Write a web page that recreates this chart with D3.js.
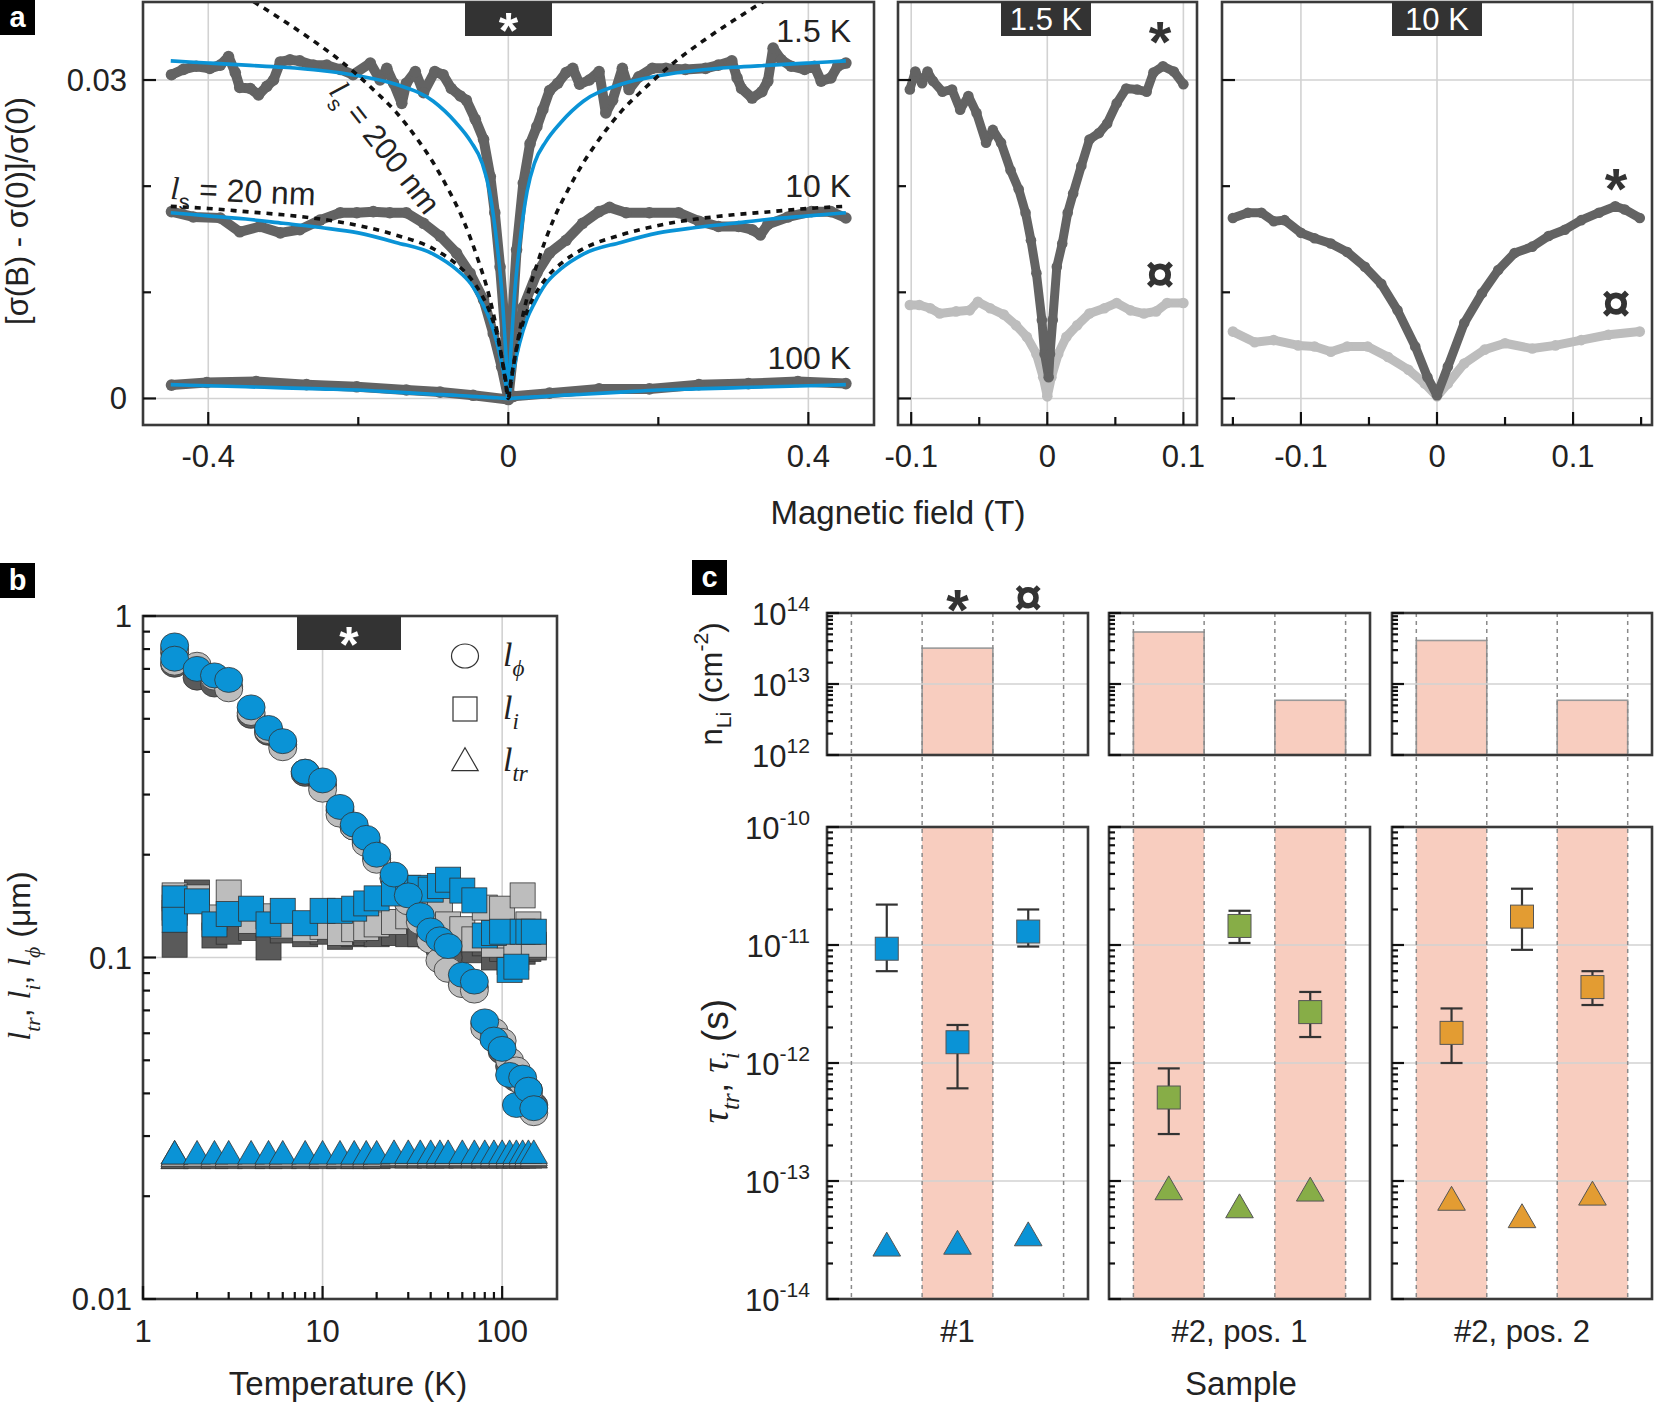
<!DOCTYPE html>
<html>
<head>
<meta charset="utf-8" />
<style>
  body { margin: 0; background: white; }
  svg text { font-family: "Liberation Sans", Arial, sans-serif; fill: #222; }
</style>
<script src="https://d3js.org/d3.v7.min.js"></script>
</head>
<body>
<script>
// ---------------- panel a: magnetoconductance ----------------
var trace15K = [[-0.449,0.0305],[-0.433,0.0310],[-0.416,0.0313],[-0.398,0.0311],[-0.384,0.0314],[-0.373,0.0322],[-0.364,0.0307],[-0.358,0.0293],[-0.344,0.0292],[-0.333,0.0286],[-0.322,0.0294],[-0.313,0.0300],[-0.304,0.0317],[-0.291,0.0319],[-0.278,0.0318],[-0.260,0.0314],[-0.242,0.0314],[-0.224,0.0310],[-0.207,0.0305],[-0.184,0.0316],[-0.171,0.0300],[-0.162,0.0311],[-0.153,0.0297],[-0.142,0.0278],[-0.136,0.0297],[-0.124,0.0308],[-0.113,0.0288],[-0.098,0.0308],[-0.087,0.0305],[-0.076,0.0292],[-0.064,0.0285],[-0.056,0.0281],[-0.044,0.0263],[-0.033,0.0244],[-0.024,0.0209],[-0.018,0.0175],[-0.011,0.0124],[-0.004,0.0061],[0,0],[0.004,0.0061],[0.011,0.0140],[0.020,0.0203],[0.029,0.0240],[0.038,0.0256],[0.046,0.0272],[0.055,0.0290],[0.066,0.0297],[0.077,0.0307],[0.086,0.0311],[0.095,0.0296],[0.108,0.0300],[0.121,0.0308],[0.130,0.0269],[0.139,0.0281],[0.152,0.0311],[0.161,0.0291],[0.174,0.0303],[0.192,0.0311],[0.210,0.0311],[0.236,0.0310],[0.263,0.0311],[0.280,0.0314],[0.298,0.0318],[0.305,0.0302],[0.311,0.0292],[0.325,0.0283],[0.338,0.0289],[0.346,0.0299],[0.353,0.0330],[0.364,0.0319],[0.377,0.0313],[0.395,0.0310],[0.408,0.0313],[0.417,0.0299],[0.430,0.0302],[0.439,0.0313],[0.450,0.0316]];
var trace10K = [[-0.449,0.0176],[-0.420,0.0171],[-0.384,0.0170],[-0.358,0.0157],[-0.331,0.0162],[-0.304,0.0156],[-0.278,0.0159],[-0.251,0.0168],[-0.224,0.0175],[-0.202,0.0175],[-0.180,0.0176],[-0.158,0.0175],[-0.136,0.0175],[-0.113,0.0165],[-0.091,0.0153],[-0.069,0.0137],[-0.051,0.0118],[-0.033,0.0093],[-0.020,0.0061],[-0.009,0.0030],[0,0],[0.007,0.0046],[0.020,0.0086],[0.038,0.0118],[0.055,0.0137],[0.077,0.0149],[0.099,0.0165],[0.121,0.0176],[0.135,0.0180],[0.157,0.0175],[0.188,0.0175],[0.227,0.0175],[0.254,0.0167],[0.280,0.0162],[0.307,0.0162],[0.325,0.0159],[0.336,0.0154],[0.346,0.0164],[0.373,0.0171],[0.404,0.0176],[0.430,0.0176],[0.450,0.0170]];
var trace100K = [[-0.449,0.00126],[-0.402,0.0015],[-0.336,0.0016],[-0.269,0.0013],[-0.202,0.0011],[-0.136,0.0008],[-0.091,0.0006],[-0.047,0.0003],[0,-0.0001],[0.007,0.0002],[0.055,0.0005],[0.121,0.0009],[0.188,0.0009],[0.254,0.0013],[0.320,0.0014],[0.386,0.0016],[0.450,0.0014]];

var fitB = [-0.45,-0.40,-0.35,-0.30,-0.25,-0.20,-0.15,-0.10,-0.07,-0.05,-0.035,-0.025,-0.015,-0.008,-0.003,0,0.003,0.008,0.015,0.025,0.035,0.05,0.07,0.10,0.15,0.20,0.25,0.30,0.35,0.40,0.45];
var fit15K = [0.0318,0.0316,0.0314,0.0312,0.0309,0.0304,0.0296,0.0280,0.0260,0.0242,0.0222,0.0195,0.0145,0.0095,0.0040,0,0.0040,0.0095,0.0145,0.0195,0.0222,0.0242,0.0260,0.0280,0.0296,0.0304,0.0309,0.0312,0.0314,0.0316,0.0318];
var fit10K = [0.0175,0.0172,0.0169,0.0165,0.0161,0.0156,0.0147,0.0136,0.0122,0.0108,0.0090,0.0075,0.0052,0.0030,0.0012,0,0.0012,0.0030,0.0052,0.0075,0.0090,0.0108,0.0122,0.0136,0.0147,0.0156,0.0161,0.0165,0.0169,0.0172,0.0175];
var fit100K = [0.0013,0.0012,0.0011,0.0010,0.0009,0.0008,0.0006,0.0004,0.0003,0.0002,0.00015,0.0001,0.00006,0.00003,0.00001,0,0.00001,0.00003,0.00006,0.0001,0.00015,0.0002,0.0003,0.0004,0.0006,0.0008,0.0009,0.0010,0.0011,0.0012,0.0013];
var ls20nm = [0.0181,0.0179,0.0176,0.0173,0.0169,0.0163,0.0154,0.0141,0.0127,0.0113,0.0097,0.0082,0.0060,0.0036,0.0015,0,0.0015,0.0036,0.0060,0.0082,0.0097,0.0113,0.0127,0.0141,0.0154,0.0163,0.0169,0.0173,0.0176,0.0179,0.0181];
var ls200B = [-0.38,-0.34,-0.30,-0.26,-0.22,-0.18,-0.15,-0.12,-0.10,-0.08,-0.06,-0.04,-0.025,-0.012,-0.005,0,0.005,0.012,0.025,0.04,0.06,0.08,0.10,0.12,0.15,0.18,0.22,0.26,0.30,0.34,0.38];
var ls200nm = [0.0392,0.0374,0.0356,0.0337,0.0316,0.0291,0.0270,0.0243,0.0222,0.0197,0.0168,0.0130,0.0095,0.0052,0.0022,0,0.0022,0.0052,0.0095,0.0130,0.0168,0.0197,0.0222,0.0243,0.0270,0.0291,0.0316,0.0337,0.0356,0.0374,0.0392];

var k15Star = [[-0.101,0.0291],[-0.097,0.0308],[-0.092,0.0297],[-0.088,0.0308],[-0.084,0.0299],[-0.077,0.0289],[-0.070,0.0291],[-0.064,0.0272],[-0.058,0.0285],[-0.052,0.0269],[-0.045,0.0241],[-0.040,0.0253],[-0.034,0.0241],[-0.027,0.0215],[-0.021,0.0197],[-0.016,0.0175],[-0.012,0.0149],[-0.008,0.0118],[-0.004,0.0074],[-0.002,0.0042],[0.001,0.0020],[0.002,0.0042],[0.004,0.0074],[0.007,0.0124],[0.011,0.0146],[0.015,0.0175],[0.019,0.0193],[0.025,0.0219],[0.031,0.0244],[0.038,0.0250],[0.044,0.0259],[0.051,0.0278],[0.058,0.0292],[0.066,0.0291],[0.073,0.0289],[0.078,0.0307],[0.085,0.0313],[0.093,0.0308],[0.100,0.0296]];
var k15Cur = [[-0.101,0.0088],[-0.094,0.0088],[-0.086,0.0085],[-0.079,0.0080],[-0.067,0.0082],[-0.057,0.0083],[-0.051,0.0091],[-0.042,0.0085],[-0.032,0.0079],[-0.023,0.0069],[-0.015,0.0058],[-0.008,0.0042],[-0.003,0.0020],[0,0.0002],[0.003,0.0020],[0.008,0.0042],[0.014,0.0058],[0.022,0.0069],[0.031,0.0080],[0.042,0.0085],[0.051,0.0090],[0.061,0.0083],[0.071,0.0080],[0.080,0.0082],[0.088,0.0090],[0.100,0.0090]];
var k10Star = [[-0.150,0.0170],[-0.139,0.0175],[-0.129,0.0175],[-0.120,0.0167],[-0.112,0.0168],[-0.100,0.0156],[-0.090,0.0151],[-0.078,0.0146],[-0.066,0.0138],[-0.053,0.0124],[-0.041,0.0108],[-0.029,0.0083],[-0.016,0.0049],[-0.007,0.0020],[0,0.0003],[0.008,0.0030],[0.020,0.0071],[0.033,0.0099],[0.045,0.0121],[0.057,0.0137],[0.070,0.0143],[0.082,0.0153],[0.094,0.0159],[0.106,0.0168],[0.119,0.0175],[0.131,0.0181],[0.138,0.0178],[0.149,0.0170]];
var k10Cur = [[-0.150,0.0063],[-0.134,0.0053],[-0.120,0.0055],[-0.102,0.0050],[-0.090,0.0049],[-0.078,0.0044],[-0.066,0.0049],[-0.051,0.0049],[-0.036,0.0039],[-0.021,0.0027],[-0.009,0.0014],[0,0.0002],[0.008,0.0014],[0.020,0.0033],[0.035,0.0046],[0.050,0.0052],[0.070,0.0047],[0.087,0.0050],[0.106,0.0055],[0.126,0.0060],[0.149,0.0063]];

// ---------------- panel b: lengths vs temperature ----------------
var tempsB = [1.5,1.5,2,2.5,3,4,5,6,8,10,12.5,15,17.5,20,25,30,35,40,45,50,60,70,80,90,100,110,120,130,140,150];
var lphiBlue  = [0.82,0.75,0.70,0.67,0.65,0.54,0.47,0.43,0.35,0.33,0.276,0.245,0.224,0.200,0.175,0.152,0.133,0.120,0.113,0.108,0.089,0.085,0.065,0.0575,0.054,0.0453,0.037,0.0445,0.041,0.0362];
var lphiLight = [0.80,0.73,0.72,0.66,0.61,0.52,0.46,0.41,0.35,0.31,0.262,0.240,0.215,0.192,0.170,0.145,0.127,0.112,0.098,0.092,0.083,0.080,0.062,0.061,0.057,0.050,0.047,0.043,0.040,0.035];
var lphiDark  = [0.78,0.72,0.66,0.63,0.62,0.51,0.455,0.42,0.345,0.32,0.270,0.240,0.218,0.195,0.171,0.148,0.130,0.116,0.105,0.100,0.085,0.082,0.064,0.058,0.053,0.048,0.044,0.043,0.041,0.037];
var liBlue  = [0.149,0.129,0.146,0.125,0.134,0.139,0.125,0.137,0.126,0.137,0.137,0.139,0.144,0.149,0.154,0.160,0.160,0.158,0.162,0.169,0.157,0.147,0.116,0.118,0.119,0.092,0.094,0.119,0.119,0.119];
var liLight = [0.152,0.135,0.150,0.131,0.155,0.128,0.132,0.124,0.121,0.123,0.118,0.121,0.122,0.125,0.127,0.132,0.140,0.145,0.138,0.125,0.121,0.113,0.140,0.109,0.139,0.116,0.105,0.152,0.125,0.109];
var liDark  = [0.140,0.109,0.155,0.116,0.119,0.122,0.107,0.120,0.117,0.119,0.115,0.117,0.118,0.117,0.118,0.117,0.117,0.116,0.115,0.114,0.112,0.105,0.110,0.100,0.106,0.097,0.100,0.104,0.106,0.107];
var ltrBlue  = [0.0262,0.0262,0.0262,0.0262,0.0262,0.0262,0.0262,0.0262,0.0262,0.0262,0.0262,0.0262,0.0262,0.0262,0.0263,0.0263,0.0263,0.0263,0.0263,0.0263,0.0263,0.0263,0.0263,0.0263,0.0263,0.0263,0.0263,0.0263,0.0263,0.0263];
var ltrLight = [0.0258,0.0258,0.0258,0.0258,0.0258,0.0258,0.0258,0.0258,0.0258,0.0258,0.0258,0.0258,0.0258,0.0258,0.0259,0.0259,0.0259,0.0259,0.0259,0.0259,0.0259,0.0259,0.0259,0.0259,0.0259,0.0259,0.0259,0.0259,0.0259,0.0259];
var ltrDark  = [0.0254,0.0254,0.0254,0.0254,0.0254,0.0254,0.0254,0.0254,0.0254,0.0254,0.0254,0.0254,0.0254,0.0254,0.0255,0.0255,0.0255,0.0255,0.0255,0.0255,0.0255,0.0255,0.0255,0.0255,0.0255,0.0255,0.0255,0.0255,0.0255,0.0255];

// ---------------- panel c: samples ----------------
var samples = ["#1", "#2, pos. 1", "#2, pos. 2"];
var sampleColors = ["#0a93d6", "#87ad47", "#e39c32"];
var nLi = [[null, 3.2e13, null], [5.4e13, null, 5.9e12], [4.1e13, null, 5.9e12]];
var tauI   = [[9.3e-12, 1.5e-12, 1.3e-11], [5.1e-13, 1.45e-11, 2.7e-12], [1.8e-12, 1.74e-11, 4.4e-12]];
var tauILo = [[6.0e-12, 6.1e-13, 9.7e-12], [2.5e-13, 1.04e-11, 1.66e-12], [1.0e-12, 9.1e-12, 3.1e-12]];
var tauIHi = [[2.2e-11, 2.1e-12, 2.0e-11], [9.0e-13, 1.95e-11, 4.0e-12], [2.9e-12, 3.0e-11, 6.0e-12]];
var tauTr  = [[2.7e-14, 2.8e-14, 3.3e-14], [8.1e-14, 5.7e-14, 7.9e-14], [6.6e-14, 4.7e-14, 7.3e-14]];

var width = 1656, height = 1403;
var svg = d3.select("body").append("svg").attr("width", width).attr("height", height);
var defs = svg.append("defs");
var SERIF = "'Liberation Serif', 'DejaVu Serif', serif";
var DARK = "#636363", LIGHT = "#bdbdbd", BLUE = "#0a93d6", GRID = "#d2d2d2", FRAME = "#3a3a3a";

function rich(text, parts, size) {
    var shift = 0;
    parts.forEach(function (p) {
        var target = p.sub ? size * 0.3 : (p.sup ? -size * 0.45 : 0);
        var ts = text.append("tspan").text(p.t).attr("dy", target - shift)
            .attr("font-size", (p.sub || p.sup) ? size * 0.68 : size);
        if (p.it) ts.attr("font-style", "italic");
        if (p.serif) ts.attr("font-family", SERIF);
        shift = target;
    });
}

function panelLetter(x, y, t) {
    svg.append("rect").attr("x", x).attr("y", y).attr("width", 35).attr("height", 35).attr("fill", "#000");
    svg.append("text").attr("x", x + 17.5).attr("y", y + 27).attr("text-anchor", "middle")
        .attr("font-size", 29).attr("font-weight", "bold").style("fill", "#fff").text(t);
}

function tag(x0, x1, y0, t, star) {
    svg.append("rect").attr("x", x0).attr("y", y0).attr("width", x1 - x0).attr("height", 34).attr("fill", "#333");
    svg.append("text").attr("x", (x0 + x1) / 2).attr("y", star ? y0 + 46 : y0 + 28).attr("text-anchor", "middle")
        .attr("font-size", star ? 50 : 31).attr("font-weight", star ? "bold" : "normal").style("fill", "#fff").text(t);
}

function frame(x0, y0, x1, y1) {
    svg.append("rect").attr("x", x0).attr("y", y0).attr("width", x1 - x0).attr("height", y1 - y0)
        .attr("fill", "none").attr("stroke", FRAME).attr("stroke-width", 2.6);
}

function xTicks(x, vals, y1, len) {
    vals.forEach(function (v) {
        svg.append("line").attr("x1", x(v)).attr("x2", x(v)).attr("y1", y1).attr("y2", y1 - len)
            .attr("stroke", "#111").attr("stroke-width", 2.2);
    });
}
function yTicks(y, vals, x0, len) {
    vals.forEach(function (v) {
        svg.append("line").attr("x1", x0).attr("x2", x0 + len).attr("y1", y(v)).attr("y2", y(v))
            .attr("stroke", "#111").attr("stroke-width", 2.2);
    });
}

// ======================= PANEL a =======================
var yA = d3.scaleLinear().domain([-0.0025, 0.03735]).range([425, 2]);
var aPanels = [
    { x0: 143, x1: 874, dom: [-0.487, 0.4875], major: [-0.4, 0, 0.4], minor: [-0.2, 0.2], labels: ["-0.4", "0", "0.4"] },
    { x0: 898, x1: 1197, dom: [-0.1097, 0.110], major: [-0.1, 0, 0.1], minor: [-0.05, 0.05], labels: ["-0.1", "0", "0.1"] },
    { x0: 1222, x1: 1652, dom: [-0.158, 0.158], major: [-0.1, 0, 0.1], minor: [-0.15, -0.05, 0.05, 0.15], labels: ["-0.1", "0", "0.1"] }
];
aPanels.forEach(function (p, i) {
    p.x = d3.scaleLinear().domain(p.dom).range([p.x0, p.x1]);
    defs.append("clipPath").attr("id", "clipA" + i).append("rect")
        .attr("x", p.x0).attr("y", 2).attr("width", p.x1 - p.x0).attr("height", 423);
    p.g = svg.append("g").attr("clip-path", "url(#clipA" + i + ")");
    p.major.forEach(function (v) {
        p.g.append("line").attr("x1", p.x(v)).attr("x2", p.x(v)).attr("y1", 2).attr("y2", 425)
            .attr("stroke", GRID).attr("stroke-width", 1.6);
    });
    [0, 0.03].forEach(function (v) {
        p.g.append("line").attr("x1", p.x0).attr("x2", p.x1).attr("y1", yA(v)).attr("y2", yA(v))
            .attr("stroke", GRID).attr("stroke-width", 1.6);
    });
});

function traceLine(x) {
    return d3.line().x(function (d) { return x(d[0]); }).y(function (d) { return yA(d[1]); });
}
function fitLine(x, xs) {
    return d3.line().curve(d3.curveMonotoneX)
        .x(function (d, i) { return x(xs[i]); }).y(function (d) { return yA(d); });
}
function drawTrace(g, x, data, color, w) {
    g.append("path").datum(data).attr("d", traceLine(x)).attr("fill", "none").attr("stroke", color)
        .attr("stroke-width", w).attr("stroke-linejoin", "round").attr("stroke-linecap", "round");
    g.selectAll(null).data(data).enter().append("circle")
        .attr("cx", function (d) { return x(d[0]); }).attr("cy", function (d) { return yA(d[1]); })
        .attr("r", w / 2 + 0.8).attr("fill", color);
}

var pa = aPanels[0];
[trace100K, trace10K, trace15K].forEach(function (d) { drawTrace(pa.g, pa.x, d, DARK, 10); });
[fit15K, fit10K, fit100K].forEach(function (d) {
    pa.g.append("path").datum(d).attr("d", fitLine(pa.x, fitB)).attr("fill", "none")
        .attr("stroke", BLUE).attr("stroke-width", 3.6);
});
pa.g.append("path").datum(ls200nm).attr("d", fitLine(pa.x, ls200B)).attr("fill", "none")
    .attr("stroke", "#111").attr("stroke-width", 3.6).attr("stroke-dasharray", "6,6");
pa.g.append("path").datum(ls20nm).attr("d", fitLine(pa.x, fitB)).attr("fill", "none")
    .attr("stroke", "#111").attr("stroke-width", 3.6).attr("stroke-dasharray", "6,6");

[["1.5 K", 42], ["10 K", 197], ["100 K", 369]].forEach(function (l) {
    svg.append("text").attr("x", 851).attr("y", l[1]).attr("text-anchor", "end").attr("font-size", 32).text(l[0]);
});
var t20 = svg.append("text").attr("transform", "translate(170,199) rotate(2.5)").attr("font-size", 32);
rich(t20, [{ t: "l", it: true, serif: true }, { t: "s", sub: true }, { t: " = 20 nm" }], 32);
var t200 = svg.append("text").attr("transform", "translate(328,92) rotate(52)").attr("font-size", 31);
rich(t200, [{ t: "l", it: true, serif: true }, { t: "s", sub: true }, { t: " = 200 nm" }], 31);

var pb2 = aPanels[1];
drawTrace(pb2.g, pb2.x, k15Cur, LIGHT, 9);
drawTrace(pb2.g, pb2.x, k15Star, DARK, 9);
var pb3 = aPanels[2];
drawTrace(pb3.g, pb3.x, k10Cur, LIGHT, 9);
drawTrace(pb3.g, pb3.x, k10Star, DARK, 9);

function symLabel(x, yc, t, size) {
    var off = t === "*" ? size * 0.55 : size * 0.36;
    svg.append("text").attr("x", x).attr("y", yc + off).attr("text-anchor", "middle")
        .attr("font-size", size).attr("font-weight", "bold").style("fill", "#333").text(t);
}
symLabel(1160, 30, "*", 58); symLabel(1160, 272, "\u00a4", 52);
symLabel(1616, 177, "*", 58); symLabel(1616, 301, "\u00a4", 52);

aPanels.forEach(function (p) {
    frame(p.x0, 2, p.x1, 425);
    xTicks(p.x, p.major, 425, 13);
    xTicks(p.x, p.minor, 425, 8);
    yTicks(yA, [0, 0.03], p.x0, 13);
    yTicks(yA, [0.01, 0.02], p.x0, 8);
    p.major.forEach(function (v, i) {
        svg.append("text").attr("x", p.x(v)).attr("y", 467).attr("text-anchor", "middle")
            .attr("font-size", 31).text(p.labels[i]);
    });
});
tag(465, 552, 2, "*", true);
tag(1001, 1091, 2, "1.5 K", false);
tag(1392, 1482, 2, "10 K", false);
[[0.03, "0.03"], [0, "0"]].forEach(function (l) {
    svg.append("text").attr("x", 127).attr("y", yA(l[0]) + 11).attr("text-anchor", "end").attr("font-size", 31).text(l[1]);
});
svg.append("text").attr("x", 898).attr("y", 524).attr("text-anchor", "middle").attr("font-size", 33).text("Magnetic field (T)");
svg.append("text").attr("transform", "translate(28,211) rotate(-90)").attr("text-anchor", "middle")
    .attr("font-size", 31).text("[\u03c3(B) - \u03c3(0)]/\u03c3(0)");
panelLetter(0, 0, "a");

// ======================= PANEL b =======================
var xB = d3.scaleLog().domain([1, 202]).range([143, 557]);
var yB = d3.scaleLog().domain([0.01, 1]).range([1299, 616]);
[10, 100].forEach(function (v) {
    svg.append("line").attr("x1", xB(v)).attr("x2", xB(v)).attr("y1", 616).attr("y2", 1299).attr("stroke", GRID).attr("stroke-width", 1.6);
});
svg.append("line").attr("x1", 143).attr("x2", 557).attr("y1", yB(0.1)).attr("y2", yB(0.1)).attr("stroke", GRID).attr("stroke-width", 1.6);

function drawLayer(lphi, li, ltr, fill) {
    var tri = d3.symbol().type(d3.symbolTriangle).size(320);
    tempsB.forEach(function (t, i) {
        svg.append("path").attr("d", tri()).attr("transform", "translate(" + xB(t) + "," + yB(ltr[i]) + ")")
            .attr("fill", fill).attr("stroke", "#333").attr("stroke-width", 0.8);
    });
    tempsB.forEach(function (t, i) {
        svg.append("rect").attr("x", xB(t) - 12.5).attr("y", yB(li[i]) - 12.5).attr("width", 25).attr("height", 25)
            .attr("fill", fill).attr("stroke", "#333").attr("stroke-width", 0.8);
    });
    tempsB.forEach(function (t, i) {
        svg.append("ellipse").attr("cx", xB(t)).attr("cy", yB(lphi[i])).attr("rx", 14).attr("ry", 12.5)
            .attr("fill", fill).attr("stroke", "#333").attr("stroke-width", 0.8);
    });
}
drawLayer(lphiDark, liDark, ltrDark, "#5a5a5a");
drawLayer(lphiLight, liLight, ltrLight, LIGHT);
drawLayer(lphiBlue, liBlue, ltrBlue, BLUE);

frame(143, 616, 557, 1299);
var bMinorX = [2, 3, 4, 5, 6, 7, 8, 9, 20, 30, 40, 50, 60, 70, 80, 90];
xTicks(xB, [1, 10, 100], 1299, 13);
xTicks(xB, bMinorX, 1299, 7);
var bMinorY = [0.02, 0.03, 0.04, 0.05, 0.06, 0.07, 0.08, 0.09, 0.2, 0.3, 0.4, 0.5, 0.6, 0.7, 0.8, 0.9];
yTicks(yB, [0.01, 0.1, 1], 143, 13);
yTicks(yB, bMinorY, 143, 7);
tag(297, 401, 616, "*", true);
[[1, "1"], [10, "10"], [100, "100"]].forEach(function (l) {
    svg.append("text").attr("x", xB(l[0])).attr("y", 1342).attr("text-anchor", "middle").attr("font-size", 31).text(l[1]);
});
[[1, "1"], [0.1, "0.1"], [0.01, "0.01"]].forEach(function (l) {
    svg.append("text").attr("x", 132).attr("y", yB(l[0]) + 11).attr("text-anchor", "end").attr("font-size", 31).text(l[1]);
});
svg.append("text").attr("x", 348).attr("y", 1395).attr("text-anchor", "middle").attr("font-size", 33).text("Temperature (K)");
var yLabB = svg.append("text").attr("transform", "translate(30,956) rotate(-90)").attr("text-anchor", "middle").attr("font-size", 32);
rich(yLabB, [{ t: "l", it: true, serif: true }, { t: "tr", it: true, serif: true, sub: true }, { t: ", " },
    { t: "l", it: true, serif: true }, { t: "i", it: true, serif: true, sub: true }, { t: ", " },
    { t: "l", it: true, serif: true }, { t: "\u03d5", it: true, serif: true, sub: true }, { t: " (\u03bcm)" }], 32);

// legend
svg.append("ellipse").attr("cx", 465).attr("cy", 656).attr("rx", 13.5).attr("ry", 12).attr("fill", "#fff").attr("stroke", "#333").attr("stroke-width", 1.2);
svg.append("rect").attr("x", 453).attr("y", 697).attr("width", 24).attr("height", 24).attr("fill", "#fff").attr("stroke", "#333").attr("stroke-width", 1.2);
svg.append("path").attr("d", d3.symbol().type(d3.symbolTriangle).size(300)()).attr("transform", "translate(465,763)")
    .attr("fill", "#fff").attr("stroke", "#333").attr("stroke-width", 1.2);
[[656, "\u03d5"], [709, "i"], [761, "tr"]].forEach(function (l) {
    var t = svg.append("text").attr("x", 503).attr("y", l[0] + 10).attr("font-size", 34);
    rich(t, [{ t: "l", it: true, serif: true }, { t: l[1], it: true, serif: true, sub: true }], 34);
});
panelLetter(0, 563, "b");

// ======================= PANEL c =======================
var yCt = d3.scaleLog().domain([1e12, 1e14]).range([755, 613]);
var yCb = d3.scaleLog().domain([1e-14, 1e-10]).range([1299, 827]);
var cFrames = [[827, 1088], [1109, 1370], [1392, 1652]];
var PINK = "#f8cdbf";

cFrames.forEach(function (f, s) {
    var x = d3.scaleBand().domain([0, 1, 2]).range(f).paddingInner(0).paddingOuter(0.345);
    var bw = x.bandwidth();
    // shading & bars
    nLi[s].forEach(function (v, c) {
        if (v === null) return;
        svg.append("rect").attr("x", x(c)).attr("y", yCb(1e-10)).attr("width", bw).attr("height", yCb(1e-14) - yCb(1e-10)).attr("fill", PINK);
        svg.append("rect").attr("x", x(c)).attr("y", yCt(v)).attr("width", bw).attr("height", yCt(1e12) - yCt(v))
            .attr("fill", PINK).attr("stroke", "#999").attr("stroke-width", 1.6);
    });
    // grid
    svg.append("line").attr("x1", f[0]).attr("x2", f[1]).attr("y1", yCt(1e13)).attr("y2", yCt(1e13)).attr("stroke", GRID).attr("stroke-width", 1.6);
    [1e-13, 1e-12, 1e-11].forEach(function (v) {
        svg.append("line").attr("x1", f[0]).attr("x2", f[1]).attr("y1", yCb(v)).attr("y2", yCb(v)).attr("stroke", GRID).attr("stroke-width", 1.6);
    });
    // dashed category borders
    [0, 1, 2, 3].forEach(function (k) {
        var xx = x(0) + k * bw;
        svg.append("line").attr("x1", xx).attr("x2", xx).attr("y1", 613).attr("y2", 1299)
            .attr("stroke", "#8a8a8a").attr("stroke-width", 1.5).attr("stroke-dasharray", "4,4");
    });
    // error bars and markers
    tauI[s].forEach(function (v, c) {
        var cx = x(c) + bw / 2;
        var lo = yCb(tauILo[s][c]), hi = yCb(tauIHi[s][c]);
        svg.append("line").attr("x1", cx).attr("x2", cx).attr("y1", lo).attr("y2", hi).attr("stroke", "#333").attr("stroke-width", 2.2);
        [lo, hi].forEach(function (yy) {
            svg.append("line").attr("x1", cx - 11).attr("x2", cx + 11).attr("y1", yy).attr("y2", yy).attr("stroke", "#333").attr("stroke-width", 2.2);
        });
        svg.append("rect").attr("x", cx - 11.5).attr("y", yCb(v) - 11.5).attr("width", 23).attr("height", 23)
            .attr("fill", sampleColors[s]).attr("stroke", "#555").attr("stroke-width", 1);
        svg.append("path").attr("d", d3.symbol().type(d3.symbolTriangle).size(330)())
            .attr("transform", "translate(" + cx + "," + yCb(tauTr[s][c]) + ")")
            .attr("fill", sampleColors[s]).attr("stroke", "#555").attr("stroke-width", 1);
    });
    frame(f[0], 613, f[1], 755);
    frame(f[0], 827, f[1], 1299);
    var minT = [], minB = [];
    [1e12, 1e13].forEach(function (d) { for (var m = 2; m < 10; m++) minT.push(d * m); });
    [1e-14, 1e-13, 1e-12, 1e-11].forEach(function (d) { for (var m = 2; m < 10; m++) minB.push(d * m); });
    yTicks(yCt, [1e12, 1e13, 1e14], f[0], 12);
    yTicks(yCt, minT, f[0], 6);
    yTicks(yCb, [1e-14, 1e-13, 1e-12, 1e-11, 1e-10], f[0], 12);
    yTicks(yCb, minB, f[0], 6);
    svg.append("text").attr("x", (f[0] + f[1]) / 2).attr("y", 1342).attr("text-anchor", "middle").attr("font-size", 31).text(samples[s]);
    if (s === 0) {
        symLabel(x(1) + bw / 2, 598, "*", 58);
        symLabel(x(2) + bw / 2, 596, "\u00a4", 50);
    }
});

[[1e14, "14"], [1e13, "13"], [1e12, "12"]].forEach(function (l) {
    var t = svg.append("text").attr("x", 810).attr("y", yCt(l[0]) + 12).attr("text-anchor", "end").attr("font-size", 31);
    rich(t, [{ t: "10" }, { t: l[1], sup: true }], 31);
});
[[1e-10, "-10"], [1e-11, "-11"], [1e-12, "-12"], [1e-13, "-13"], [1e-14, "-14"]].forEach(function (l) {
    var t = svg.append("text").attr("x", 810).attr("y", yCb(l[0]) + 12).attr("text-anchor", "end").attr("font-size", 31);
    rich(t, [{ t: "10" }, { t: l[1], sup: true }], 31);
});
var yLabCt = svg.append("text").attr("transform", "translate(722,684) rotate(-90)").attr("text-anchor", "middle").attr("font-size", 31);
rich(yLabCt, [{ t: "n" }, { t: "Li", sub: true }, { t: " (cm" }, { t: "-2", sup: true }, { t: ")" }], 31);
var yLabCb = svg.append("text").attr("transform", "translate(728,1061) rotate(-90)").attr("text-anchor", "middle").attr("font-size", 32);
rich(yLabCb, [{ t: "\u03c4", it: true, serif: true }, { t: "tr", it: true, serif: true, sub: true }, { t: ",  " },
    { t: "\u03c4", it: true, serif: true }, { t: "i", it: true, serif: true, sub: true }, { t: " (s)" }], 37);
svg.append("text").attr("x", 1241).attr("y", 1395).attr("text-anchor", "middle").attr("font-size", 33).text("Sample");
panelLetter(692, 560, "c");
</script>
</body>
</html>
